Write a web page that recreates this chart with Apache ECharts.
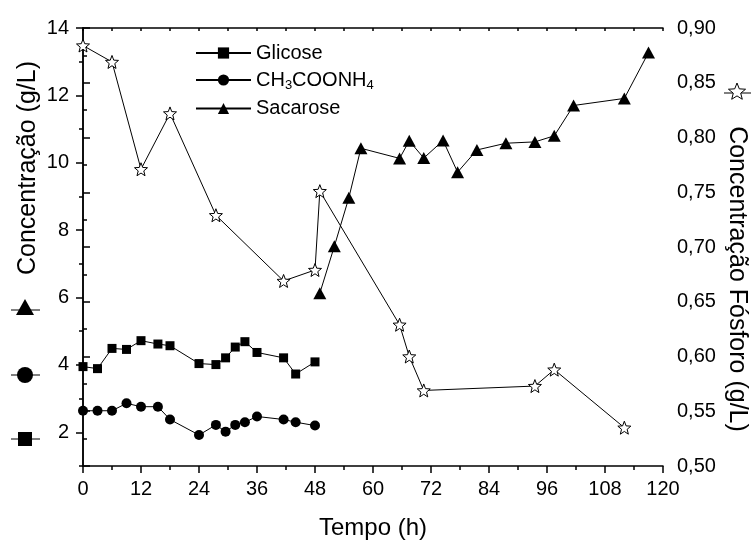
<!DOCTYPE html>
<html>
<head>
<meta charset="utf-8">
<script src="https://cdn.jsdelivr.net/npm/echarts@6/dist/echarts.min.js"></script>
<style>
    html, body { margin: 0; padding: 0; background: #fff; }
    #chart { width: 754px; height: 545px; }
</style>
</head>
<body>
<div id="chart"></div>
<script>
// time (h) and concentrations
var glicoseTime = [0, 3, 6, 9, 12, 15.5, 18, 24, 27.5, 29.5, 31.5, 33.5, 36, 41.5, 44, 48];
var glicose     = [3.95, 3.89, 4.49, 4.46, 4.72, 4.62, 4.57, 4.04, 4.01, 4.21, 4.53, 4.69, 4.37, 4.21, 3.73, 4.09];

var acetatoTime = [0, 3, 6, 9, 12, 15.5, 18, 24, 27.5, 29.5, 31.5, 33.5, 36, 41.5, 44, 48];
var acetato     = [2.64, 2.64, 2.64, 2.86, 2.76, 2.76, 2.38, 1.92, 2.22, 2.02, 2.22, 2.30, 2.47, 2.38, 2.30, 2.20];

var sacaroseTime = [49, 52, 55, 57.5, 65.5, 67.5, 70.5, 74.5, 77.5, 81.5, 87.5, 93.5, 97.5, 101.5, 112, 117];
var sacarose     = [6.13, 7.52, 8.96, 10.43, 10.13, 10.65, 10.14, 10.66, 9.72, 10.38, 10.58, 10.62, 10.80, 11.70, 11.91, 13.27];

var fosforoTime = [0, 6, 12, 18, 27.5, 41.5, 48, 49, 65.5, 67.5, 70.5, 93.5, 97.5, 112];
var fosforo     = [0.884, 0.869, 0.771, 0.822, 0.729, 0.669, 0.679, 0.751, 0.629, 0.600, 0.569, 0.573, 0.588, 0.535];

var leftLabels = [2, 4, 6, 8, 10, 12, 14];
var legendNames = ['Glicose', 'CH3COONH4', 'Sacarose'];

var FONT = '"Liberation Sans", Arial, sans-serif';

function zip(xs, ys) {
    var out = [];
    for (var i = 0; i < xs.length; i++) {
        out.push([xs[i], ys[i]]);
    }
    return out;
}

function starPoints(cx, cy, R, r) {
    var pts = [];
    for (var i = 0; i < 10; i++) {
        var rad = i % 2 === 0 ? R : r;
        var a = -Math.PI / 2 + i * Math.PI / 5;
        pts.push([cx + rad * Math.cos(a), cy + rad * Math.sin(a)]);
    }
    return pts;
}

function starPath() {
    var pts = starPoints(10, 10, 10, 4.3);
    var d = 'M' + pts.map(function (p) { return p[0].toFixed(2) + ' ' + p[1].toFixed(2); }).join(' L') + ' Z';
    return 'path://' + d;
}

var axisLine = { show: true, lineStyle: { color: '#000', width: 1.5 } };
var tickStyle = { color: '#000', width: 1.5 };
var labelStyle = { color: '#000', fontSize: 20, fontFamily: FONT };

var chart = echarts.init(document.getElementById('chart'));

chart.setOption({
    animation: false,
    textStyle: { fontFamily: FONT },
    grid: { left: 83, right: 91, top: 28, bottom: 76 },
    legend: {
        data: legendNames,
        orient: 'vertical',
        left: 195,
        top: 43,
        padding: 0,
        itemWidth: 55,
        itemHeight: 14,
        itemGap: 7,
        selectedMode: false,
        textStyle: {
            color: '#000',
            fontSize: 20,
            fontFamily: FONT,
            rich: {
                s: { fontSize: 13, fontFamily: FONT, color: '#000', padding: [10, 0, 0, 0] }
            }
        },
        formatter: function (name) {
            if (name === 'CH3COONH4') {
                return 'CH{s|3}COONH{s|4}';
            }
            return name;
        }
    },
    xAxis: [{
        type: 'value',
        position: 'bottom',
        min: 0,
        max: 120,
        interval: 12,
        axisLine: axisLine,
        axisTick: { show: true, length: 7, lineStyle: tickStyle },
        minorTick: { show: true, splitNumber: 2, length: 4, lineStyle: tickStyle },
        axisLabel: Object.assign({ margin: 13 }, labelStyle),
        splitLine: { show: false },
        name: 'Tempo (h)',
        nameLocation: 'middle',
        nameGap: 50,
        nameTextStyle: { color: '#000', fontSize: 24, fontFamily: FONT }
    }, {
        type: 'value',
        position: 'top',
        min: 0,
        max: 120,
        interval: 12,
        axisLine: axisLine,
        axisTick: { show: true, inside: true, length: 3, lineStyle: tickStyle },
        minorTick: { show: true, splitNumber: 2, length: 3, lineStyle: tickStyle },
        axisLabel: { show: false },
        splitLine: { show: false }
    }],
    yAxis: [{
        type: 'value',
        position: 'left',
        min: 1,
        max: 14,
        axisLine: axisLine,
        axisTick: { show: true, length: 7, customValues: leftLabels, lineStyle: tickStyle },
        axisLabel: Object.assign({ margin: 14, customValues: leftLabels }, labelStyle),
        splitLine: { show: false }
    }, {
        type: 'value',
        position: 'right',
        min: 0.5,
        max: 0.9,
        interval: 0.05,
        axisLine: axisLine,
        axisTick: { show: true, length: 7, lineStyle: tickStyle },
        minorTick: { show: true, splitNumber: 2, length: 4, lineStyle: tickStyle },
        axisLabel: Object.assign({
            margin: 14,
            formatter: function (v) { return v.toFixed(2).replace('.', ','); }
        }, labelStyle),
        splitLine: { show: false }
    }, {
        // odd-value minor ticks on the left axis
        type: 'value',
        position: 'left',
        min: 1,
        max: 14,
        interval: 1,
        axisLine: { show: false },
        axisTick: { show: true, length: 4, lineStyle: tickStyle },
        axisLabel: { show: false },
        splitLine: { show: false }
    }],
    series: [{
        name: 'Glicose',
        type: 'line',
        xAxisIndex: 0,
        yAxisIndex: 0,
        data: zip(glicoseTime, glicose),
        symbol: 'rect',
        symbolSize: 9,
        clip: false,
        itemStyle: { color: '#000' },
        lineStyle: { color: '#000', width: 1 }
    }, {
        name: 'CH3COONH4',
        type: 'line',
        xAxisIndex: 0,
        yAxisIndex: 0,
        data: zip(acetatoTime, acetato),
        symbol: 'circle',
        symbolSize: 10,
        clip: false,
        itemStyle: { color: '#000' },
        lineStyle: { color: '#000', width: 1 }
    }, {
        name: 'Sacarose',
        type: 'line',
        xAxisIndex: 0,
        yAxisIndex: 0,
        data: zip(sacaroseTime, sacarose),
        symbol: 'triangle',
        symbolSize: [13, 12],
        clip: false,
        itemStyle: { color: '#000' },
        lineStyle: { color: '#000', width: 1 }
    }, {
        name: 'Fósforo',
        type: 'line',
        xAxisIndex: 0,
        yAxisIndex: 1,
        data: zip(fosforoTime, fosforo),
        symbol: starPath(),
        symbolSize: 13,
        clip: false,
        z: 3,
        itemStyle: { color: '#fff', borderColor: '#000', borderWidth: 1 },
        lineStyle: { color: '#000', width: 1 }
    }],
    graphic: [{
        type: 'text',
        x: 28,
        y: 168,
        rotation: Math.PI / 2,
        style: {
            text: 'Concentração (g/L)',
            fontSize: 25,
            fontFamily: FONT,
            fill: '#000',
            align: 'center',
            verticalAlign: 'middle'
        }
    }, {
        type: 'text',
        x: 737,
        y: 279,
        rotation: -Math.PI / 2,
        style: {
            text: 'Concentração Fósforo (g/L)',
            fontSize: 25,
            fontFamily: FONT,
            fill: '#000',
            align: 'center',
            verticalAlign: 'middle'
        }
    },
    // axis-title keys (left: triangle, circle, square; right: star)
    { type: 'line', shape: { x1: 11, y1: 310, x2: 40, y2: 310 }, style: { stroke: '#000', lineWidth: 1 } },
    { type: 'polygon', shape: { points: [[25, 299], [34, 315], [16, 315]] }, style: { fill: '#000' } },
    { type: 'line', shape: { x1: 11, y1: 375, x2: 40, y2: 375 }, style: { stroke: '#000', lineWidth: 1 } },
    { type: 'circle', shape: { cx: 25, cy: 375, r: 8 }, style: { fill: '#000' } },
    { type: 'line', shape: { x1: 11, y1: 439, x2: 40, y2: 439 }, style: { stroke: '#000', lineWidth: 1 } },
    { type: 'rect', shape: { x: 18, y: 432, width: 14, height: 14 }, style: { fill: '#000' } },
    { type: 'line', shape: { x1: 724, y1: 93, x2: 751, y2: 93 }, style: { stroke: '#000', lineWidth: 1 } },
    { type: 'polygon', shape: { points: starPoints(737, 92, 9, 3.9) }, style: { fill: '#fff', stroke: '#000', lineWidth: 1 } }
    ]
});
</script>
</body>
</html>
